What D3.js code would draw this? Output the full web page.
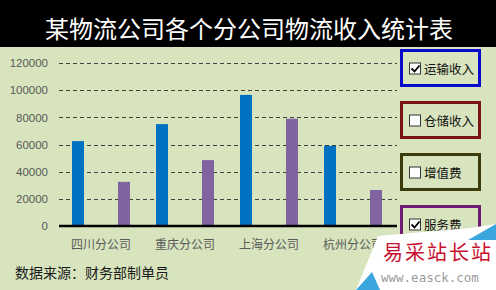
<!DOCTYPE html>
<html><head><meta charset="utf-8">
<script src="https://cdn.jsdelivr.net/npm/d3@7"></script>
<style>html,body{margin:0;padding:0;background:#fff;}svg{display:block;}</style>
</head><body>
<svg id="c" width="496" height="290"></svg>
<script>
const title = "某物流公司各个分公司物流收入统计表";
const categories = ["四川分公司","重庆分公司","上海分公司","杭州分公司"];
const seriesNames = ["运输收入","仓储收入","增值费","服务费"];
const seriesChecked = [true,false,false,true];
const seriesColors = ["#0070C0","#C0504D","#9BBB59","#8064A2"];
const legendBorders = ["#0A0ACF","#7A1414","#3B3B0C","#6E1E72"];
const transportValues = [62500,75000,96500,59000];
const serviceValues = [32500,48500,79000,26500];
const yTicks = [0,20000,40000,60000,80000,100000,120000];
const source = "数据来源：财务部制单员";

const svg = d3.select("#c");
const font = "'Noto Sans CJK SC','Microsoft YaHei',sans-serif";
svg.append("rect").attr("width",496).attr("height",290).attr("fill","#D7E4BD");
svg.append("rect").attr("x",0).attr("y",0).attr("width",496).attr("height",47).attr("fill","#000");
svg.append("text").attr("x",249).attr("y",27).attr("text-anchor","middle").attr("dominant-baseline","central")
  .attr("fill","#fff").attr("font-family",font).attr("font-size",24).text(title);

const x = d3.scaleBand().domain(categories).range([59,395]);
const x1 = d3.scaleBand().domain(seriesNames).range([0,x.bandwidth()]).paddingInner(0.217).paddingOuter(0.848);
const y = d3.scaleLinear().domain([0,120000]).range([226,63]);

// grid
const g = svg.append("g");
g.selectAll("line.grid").data(yTicks.filter(d=>d>0)).join("line")
  .attr("x1",59).attr("x2",397).attr("y1",d=>Math.round(y(d))+0.5).attr("y2",d=>Math.round(y(d))+0.5)
  .attr("stroke","#404040").attr("stroke-width",1).attr("stroke-dasharray","4,3");
// y labels
const yAxis = d3.axisLeft(y).tickValues(yTicks).tickSize(0).tickPadding(0).tickFormat(d3.format("d"));
const ya = svg.append("g").attr("transform","translate(48,0)").call(yAxis);
ya.select(".domain").remove();
ya.selectAll("text").attr("fill","#595959").attr("font-family","'Liberation Sans',Arial,sans-serif").attr("font-size",11.5);

// bars
const series = [
  {name:seriesNames[0], values:transportValues, color:seriesColors[0]},
  {name:seriesNames[3], values:serviceValues, color:seriesColors[3]}
];
series.forEach(s=>{
  svg.append("g").selectAll("rect").data(categories).join("rect")
    .attr("x",(c)=>x(c)+x1(s.name)).attr("width",x1.bandwidth())
    .attr("y",(c,i)=>y(s.values[i])).attr("height",(c,i)=>y(0)-y(s.values[i]))
    .attr("fill",s.color);
});
// axis line
svg.append("line").attr("x1",59).attr("x2",397).attr("y1",226).attr("y2",226).attr("stroke","#000").attr("stroke-width",2.5);
// x labels
const xAxis = d3.axisBottom(x).tickSize(0).tickPadding(0);
const xa = svg.append("g").attr("transform","translate(0,238)").call(xAxis);
xa.select(".domain").remove();
xa.selectAll("text").attr("fill","#595959").attr("font-family",font).attr("font-size",12).attr("dy","0.35em").attr("y",7);

// legend boxes
seriesNames.forEach((n,i)=>{
  const top = 50.5 + i*52;
  const lg = svg.append("g");
  lg.append("rect").attr("x",401.5).attr("y",top).attr("width",78).attr("height",35)
    .attr("fill","#D7E4BD").attr("stroke",legendBorders[i]).attr("stroke-width",3);
  lg.append("rect").attr("x",409.5).attr("y",top+12.5).attr("width",11).attr("height",11)
    .attr("fill","#fff").attr("stroke","#333").attr("stroke-width",1);
  if(seriesChecked[i]){
    lg.append("path").attr("d",`M${411.5},${top+18} l3,3 l5,-6`).attr("fill","none").attr("stroke","#000").attr("stroke-width",1.8);
  }
  lg.append("text").attr("x",424).attr("y",top+18).attr("dominant-baseline","central")
    .attr("font-family",font).attr("font-size",12.5).attr("fill","#111").text(n);
});

// source
svg.append("text").attr("x",15).attr("y",272).attr("dominant-baseline","central")
  .attr("font-family",font).attr("font-size",14).attr("fill","#1a1a1a").text(source);

// watermark overlay
const wm = svg.append("g");
wm.append("polygon").attr("points","378,236 470,228 496,224 496,290 356,290").attr("fill","#fff");
wm.append("polygon").attr("points","468,240 496,224 496,240").attr("fill","#3AA6DD");
wm.append("polygon").attr("points","356,290 372,272 380,290").attr("fill","#3AA6DD");
wm.append("text").attr("x",383).attr("y",251).attr("dominant-baseline","central")
  .attr("font-family","'Noto Sans CJK SC',serif").attr("font-size",20).attr("fill","#C8102E")
  .attr("letter-spacing",2).text("易采站长站");
wm.append("text").attr("x",381).attr("y",277).attr("dominant-baseline","central")
  .attr("font-family","'DejaVu Sans Mono',monospace").attr("font-size",12.5).attr("fill","#9a9a9a").text("www.easck.com");
</script>
</body></html>
